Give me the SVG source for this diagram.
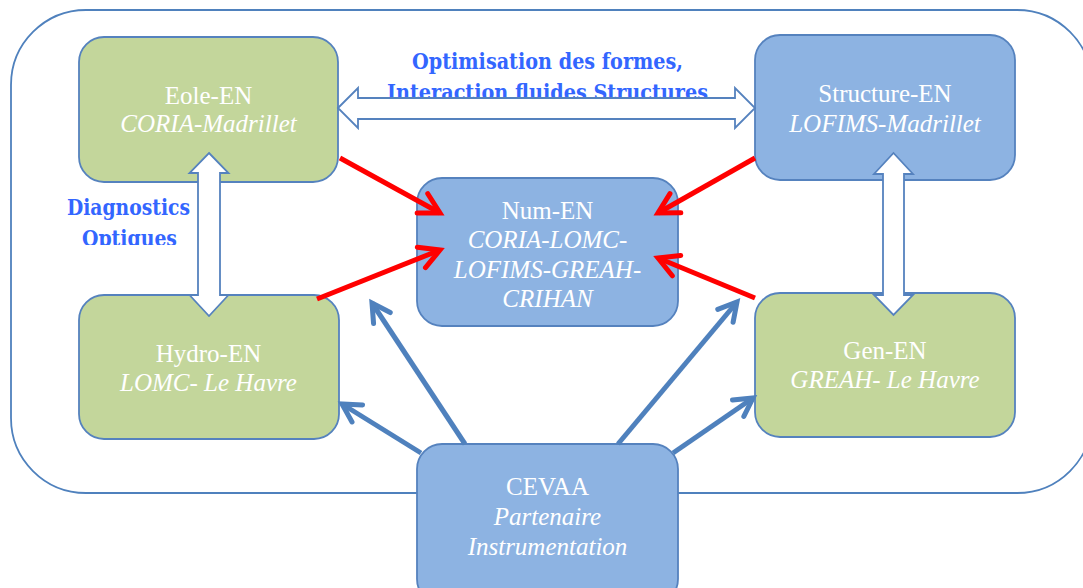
<svg xmlns="http://www.w3.org/2000/svg" width="1083" height="588" viewBox="0 0 1083 588">
  <style>
    .box { stroke: #5582BE; stroke-width: 1.8; }
    .green { fill: #C3D69B; }
    .blue { fill: #8DB3E2; }
    .t { font-family: "Liberation Serif", "Times New Roman", serif; font-size: 25px; fill: #FFFFFF; text-anchor: middle; }
    .i { font-style: italic; }
    .lbl { font-family: "DejaVu Serif", "Liberation Serif", serif; font-size: 22.5px; font-weight: bold; fill: #3366FF; }
    .dbl { fill: #FFFFFF; stroke: #5582BE; stroke-width: 1.8; stroke-linejoin: miter; }
    .red { stroke: #FF0000; stroke-width: 5; fill: none; }
    .stl { stroke: #4F81BD; stroke-width: 5; fill: none; }
  </style>
  <defs>
    <marker id="mRed" markerUnits="userSpaceOnUse" viewBox="-30 -20 40 40" refX="0" refY="0" markerWidth="40" markerHeight="40" orient="auto" overflow="visible">
      <path d="M-20,-11 L0,0 L-20,11" fill="none" stroke="#FF0000" stroke-width="5" stroke-linecap="round" stroke-linejoin="miter"/>
    </marker>
    <marker id="mBlue" markerUnits="userSpaceOnUse" viewBox="-30 -20 40 40" refX="0" refY="0" markerWidth="40" markerHeight="40" orient="auto" overflow="visible">
      <path d="M-18,-10 L0,0 L-18,10" fill="none" stroke="#4F81BD" stroke-width="5" stroke-linecap="round" stroke-linejoin="miter"/>
    </marker>
    <clipPath id="clipOpt">
      <rect x="0" y="0" width="300" height="245"/>
    </clipPath>
  </defs>

  <rect id="frame" x="11" y="10" width="1081" height="483" rx="75" ry="75" fill="none" stroke="#4F81BD" stroke-width="1.8"/>

  <g id="eole">
    <rect class="box green" x="79" y="37" width="259" height="145" rx="25"/>
    <text class="t" x="208.5" y="104">Eole-EN</text>
    <text class="t i" x="208.5" y="132">CORIA-Madrillet</text>
  </g>
  <g id="structure">
    <rect class="box blue" x="755" y="35" width="260" height="145" rx="25"/>
    <text class="t" x="885" y="102">Structure-EN</text>
    <text class="t i" x="885" y="132">LOFIMS-Madrillet</text>
  </g>
  <g id="num">
    <rect class="box blue" x="417" y="178" width="261" height="148" rx="25"/>
    <text class="t" x="547.5" y="219">Num-EN</text>
    <text class="t i" x="547.5" y="248">CORIA-LOMC-</text>
    <text class="t i" x="547.5" y="278">LOFIMS-GREAH-</text>
    <text class="t i" x="547.5" y="307">CRIHAN</text>
  </g>
  <g id="hydro">
    <rect class="box green" x="79" y="295" width="260" height="144" rx="25"/>
    <text class="t" x="208.5" y="362">Hydro-EN</text>
    <text class="t i" x="208.5" y="391">LOMC- Le Havre</text>
  </g>
  <g id="gen">
    <rect class="box green" x="755" y="293" width="260" height="144" rx="25"/>
    <text class="t" x="885" y="359">Gen-EN</text>
    <text class="t i" x="885" y="388">GREAH- Le Havre</text>
  </g>
  <g id="cevaa">
    <rect class="box blue" x="417" y="444" width="261" height="160" rx="25"/>
    <text class="t" x="547.5" y="495">CEVAA</text>
    <text class="t i" x="547.5" y="525">Partenaire</text>
    <text class="t i" x="547.5" y="555">Instrumentation</text>
  </g>

  <g id="labels">
    <text class="lbl" x="412" y="69" textLength="271" lengthAdjust="spacingAndGlyphs">Optimisation des formes,</text>
    <text class="lbl" x="387" y="100" textLength="321" lengthAdjust="spacingAndGlyphs">Interaction fluides Structures</text>
    <text class="lbl" x="67" y="215" textLength="123" lengthAdjust="spacingAndGlyphs">Diagnostics</text>
    <text class="lbl" x="82" y="246" textLength="95" lengthAdjust="spacingAndGlyphs" clip-path="url(#clipOpt)">Optiques</text>
  </g>

  <g id="connectors">
    <polygon class="dbl" points="338,108 358,88 358,98 735,98 735,88 755,108 735,128 735,119 358,119 358,128"/>
    <polygon class="dbl" points="209,153 228.5,173 220,173 220,295 228.5,295 209,316 189.5,295 198,295 198,173 189.5,173"/>
    <polygon class="dbl" points="893.5,153 913,174 904,174 904,295 913,295 893.5,315 874,295 883,295 883,174 874,174"/>

    <line class="red" x1="340" y1="158" x2="440" y2="213" marker-end="url(#mRed)"/>
    <line class="red" x1="317" y1="299" x2="440" y2="250" marker-end="url(#mRed)"/>
    <line class="red" x1="755" y1="158" x2="658" y2="213" marker-end="url(#mRed)"/>
    <line class="red" x1="755" y1="298" x2="658" y2="258" marker-end="url(#mRed)"/>

    <line class="stl" x1="465" y1="444" x2="372" y2="303" marker-end="url(#mBlue)"/>
    <line class="stl" x1="421" y1="453" x2="342" y2="404" marker-end="url(#mBlue)"/>
    <line class="stl" x1="618" y1="444" x2="737" y2="302" marker-end="url(#mBlue)"/>
    <line class="stl" x1="673" y1="453" x2="753" y2="398" marker-end="url(#mBlue)"/>
  </g>
</svg>
